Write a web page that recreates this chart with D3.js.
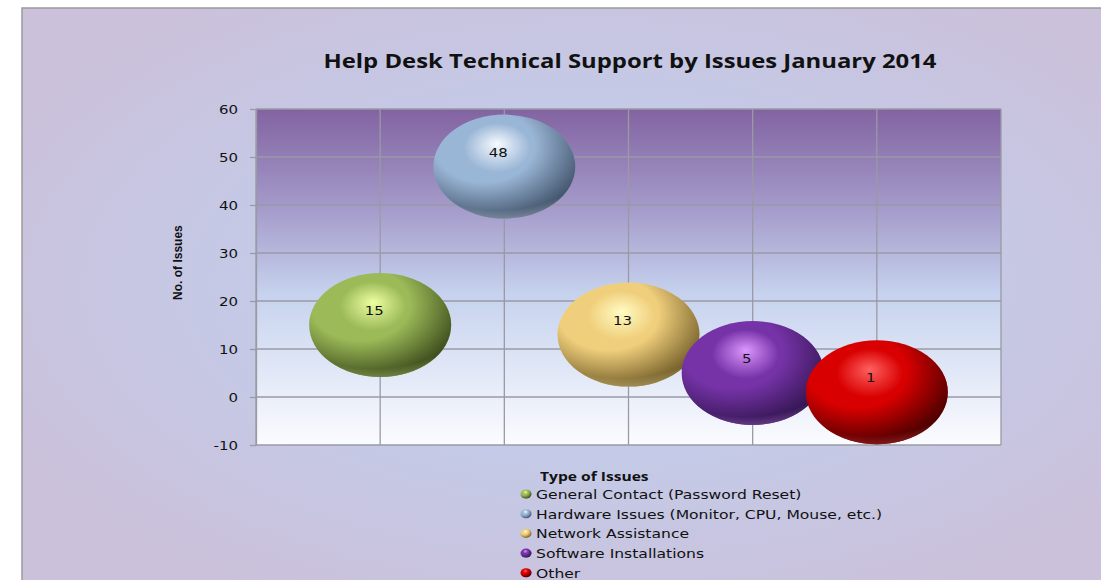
<!DOCTYPE html>
<html>
<head>
<meta charset="utf-8">
<script src="https://cdn.jsdelivr.net/npm/d3@7"></script>
<style>
  body { margin: 0; background: #fff; }
  svg { display: block; }
</style>
</head>
<body>
<div id="chart"></div>
<script>
// data
var categories = ["General Contact (Password Reset)", "Hardware Issues (Monitor, CPU, Mouse, etc.)", "Network Assistance", "Software Installations", "Other"];
var xValues = [1, 2, 3, 4, 5];
var issueCounts = [15, 48, 13, 5, 1];
var yTicks = [-10, 0, 10, 20, 30, 40, 50, 60];
var sphereColors = [
    {light: "#eeffa0", base: "#9cba58", dark: "#2c3a12"},
    {light: "#f6faff", base: "#9ab6d6", dark: "#34445a"},
    {light: "#fffcc4", base: "#f0cf7c", dark: "#5e4a1a"},
    {light: "#dc96ff", base: "#7633a8", dark: "#261040"},
    {light: "#ff6060", base: "#d80000", dark: "#300000"}
];

var width = 1101,
    height = 580,
    margin = {top: 109, left: 256};

var svg = d3.select("#chart").append("svg")
    .attr("width", width)
    .attr("height", height);

var defs = svg.append("defs");

// chart background
var bg = defs.append("radialGradient").attr("id", "bgGrad")
    .attr("cx", "0.52").attr("cy", "0.48").attr("r", "0.6");
bg.append("stop").attr("offset", "0").attr("stop-color", "#c2cdec");
bg.append("stop").attr("offset", "0.5").attr("stop-color", "#c4cae7");
bg.append("stop").attr("offset", "1").attr("stop-color", "#cbc1db");

var plotGrad = defs.append("linearGradient").attr("id", "plotGrad")
    .attr("x1", 0).attr("y1", 0).attr("x2", 0).attr("y2", 1);
plotGrad.append("stop").attr("offset", "0").attr("stop-color", "#8263a1");
plotGrad.append("stop").attr("offset", "0.3").attr("stop-color", "#a59ccb");
plotGrad.append("stop").attr("offset", "0.55").attr("stop-color", "#c6d2ee");
plotGrad.append("stop").attr("offset", "1").attr("stop-color", "#fbfcff");

svg.append("rect")
    .attr("x", 22).attr("y", 8)
    .attr("width", width).attr("height", height)
    .attr("fill", "url(#bgGrad)")
    .attr("stroke", "#9a9a9a")
    .attr("stroke-width", 1.5);

// sphere gradients
sphereColors.forEach(function(c, i) {
    var g = defs.append("radialGradient").attr("id", "sphere" + i)
        .attr("cx", "0.45").attr("cy", "0.38").attr("r", "0.62")
        .attr("fx", "0.45").attr("fy", "0.28");
    g.append("stop").attr("offset", "0").attr("stop-color", c.light);
    g.append("stop").attr("offset", "0.38").attr("stop-color", c.base);
    g.append("stop").attr("offset", "1").attr("stop-color", c.base);

    var shade = defs.append("radialGradient").attr("id", "shade" + i)
        .attr("cx", "0.36").attr("cy", "0.3").attr("r", "0.78");
    shade.append("stop").attr("offset", "0.45").attr("stop-color", c.dark).attr("stop-opacity", 0);
    shade.append("stop").attr("offset", "0.85").attr("stop-color", c.dark).attr("stop-opacity", 0.7);
    shade.append("stop").attr("offset", "1").attr("stop-color", c.dark).attr("stop-opacity", 0.95);

    var rim = defs.append("radialGradient").attr("id", "rim" + i)
        .attr("cx", "0.45").attr("cy", "0.1").attr("r", "1");
    rim.append("stop").attr("offset", "0.82").attr("stop-color", c.light).attr("stop-opacity", 0);
    rim.append("stop").attr("offset", "1").attr("stop-color", c.light).attr("stop-opacity", 0.6);
});

var x = d3.scaleLinear().domain([0, 6]).range([0, 745]);
var y = d3.scaleLinear().domain([-10, 60]).range([336, 0]);

var g = svg.append("g").attr("transform", `translate(${margin.left},${margin.top})`);

g.append("rect")
    .attr("width", x(6)).attr("height", y(-10))
    .attr("fill", "url(#plotGrad)");

// grid
g.selectAll(".hgrid").data(yTicks).enter().append("line")
    .attr("x1", 0).attr("x2", x(6))
    .attr("y1", d => y(d)).attr("y2", d => y(d))
    .attr("stroke", "#9a9aa4").attr("stroke-width", 1.3);
g.selectAll(".vgrid").data(d3.range(0, 7)).enter().append("line")
    .attr("x1", d => x(d)).attr("x2", d => x(d))
    .attr("y1", 0).attr("y2", y(-10))
    .attr("stroke", "#9a9aa4").attr("stroke-width", 1.3);

// y axis
var yAxis = d3.axisLeft(y).tickValues(yTicks).tickFormat(d => String(d))
    .tickSize(6).tickSizeOuter(0);
var ya = g.append("g").call(yAxis);
ya.select(".domain").attr("stroke", "#9a9aa4").attr("stroke-width", 1.3);
ya.selectAll(".tick line").attr("stroke", "#9a9aa4").attr("stroke-width", 1.3);
ya.selectAll(".tick text")
    .attr("x", null)
    .attr("transform", "translate(-18,0) scale(1.15,1)")
    .attr("fill", "#111")
    .style("font-family", "'DejaVu Sans', Verdana, sans-serif")
    .style("font-size", "13px");

g.append("text")
    .attr("transform", `translate(-74,${y(28)}) rotate(-90)`)
    .attr("text-anchor", "middle")
    .style("font-family", "'Liberation Sans Narrow', 'Liberation Sans', sans-serif")
    .style("font-size", "12px")
    .style("font-weight", "bold")
    .attr("fill", "#111")
    .text("No. of Issues");

// bubbles
var bubbles = g.selectAll(".bubble").data(issueCounts).enter().append("g")
    .attr("class", "bubble")
    .attr("transform", (d, i) => `translate(${x(xValues[i])},${y(d)})`);

bubbles.append("ellipse").attr("rx", 71).attr("ry", 52)
    .attr("fill", (d, i) => `url(#sphere${i})`);
bubbles.append("ellipse").attr("rx", 71).attr("ry", 52)
    .attr("fill", (d, i) => `url(#shade${i})`);
bubbles.append("ellipse").attr("rx", 71).attr("ry", 52)
    .attr("fill", (d, i) => `url(#rim${i})`);

bubbles.append("text")
    .attr("transform", "translate(-6,-10) scale(1.15,1)")
    .attr("text-anchor", "middle")
    .style("font-family", "'DejaVu Sans', Verdana, sans-serif")
    .style("font-size", "13px")
    .attr("fill", "#111")
    .text(d => d);

// title
svg.append("text")
    .attr("x", 630).attr("y", 68)
    .attr("text-anchor", "middle")
    .attr("textLength", 613)
    .attr("lengthAdjust", "spacingAndGlyphs")
    .style("font-family", "'Open Sans', sans-serif")
    .style("font-size", "20px")
    .style("font-weight", "bold")
    .attr("fill", "#111")
    .text("Help Desk Technical Support by Issues January 2014");

// legend
var legend = svg.append("g").attr("transform", "translate(520,476)");
legend.append("text")
    .attr("transform", "translate(20,5) scale(1.2,1)")
    .style("font-family", "'Open Sans', sans-serif")
    .style("font-size", "13px")
    .style("font-weight", "bold")
    .attr("fill", "#111")
    .text("Type of Issues");

var items = legend.selectAll(".item").data(categories).enter().append("g")
    .attr("transform", (d, i) => `translate(0,${18 + i * 19.7})`);
items.append("ellipse").attr("cx", 6).attr("cy", 0).attr("rx", 5.5).attr("ry", 4.5)
    .attr("fill", (d, i) => `url(#sphere${i})`);
items.append("ellipse").attr("cx", 6).attr("cy", 0).attr("rx", 5.5).attr("ry", 4.5)
    .attr("fill", (d, i) => `url(#shade${i})`);
items.append("text")
    .attr("transform", "translate(16,5) scale(1.2,1)")
    .style("font-family", "'DejaVu Sans', Verdana, sans-serif")
    .style("font-size", "13px")
    .attr("fill", "#111")
    .text(d => d);
</script>
</body>
</html>
